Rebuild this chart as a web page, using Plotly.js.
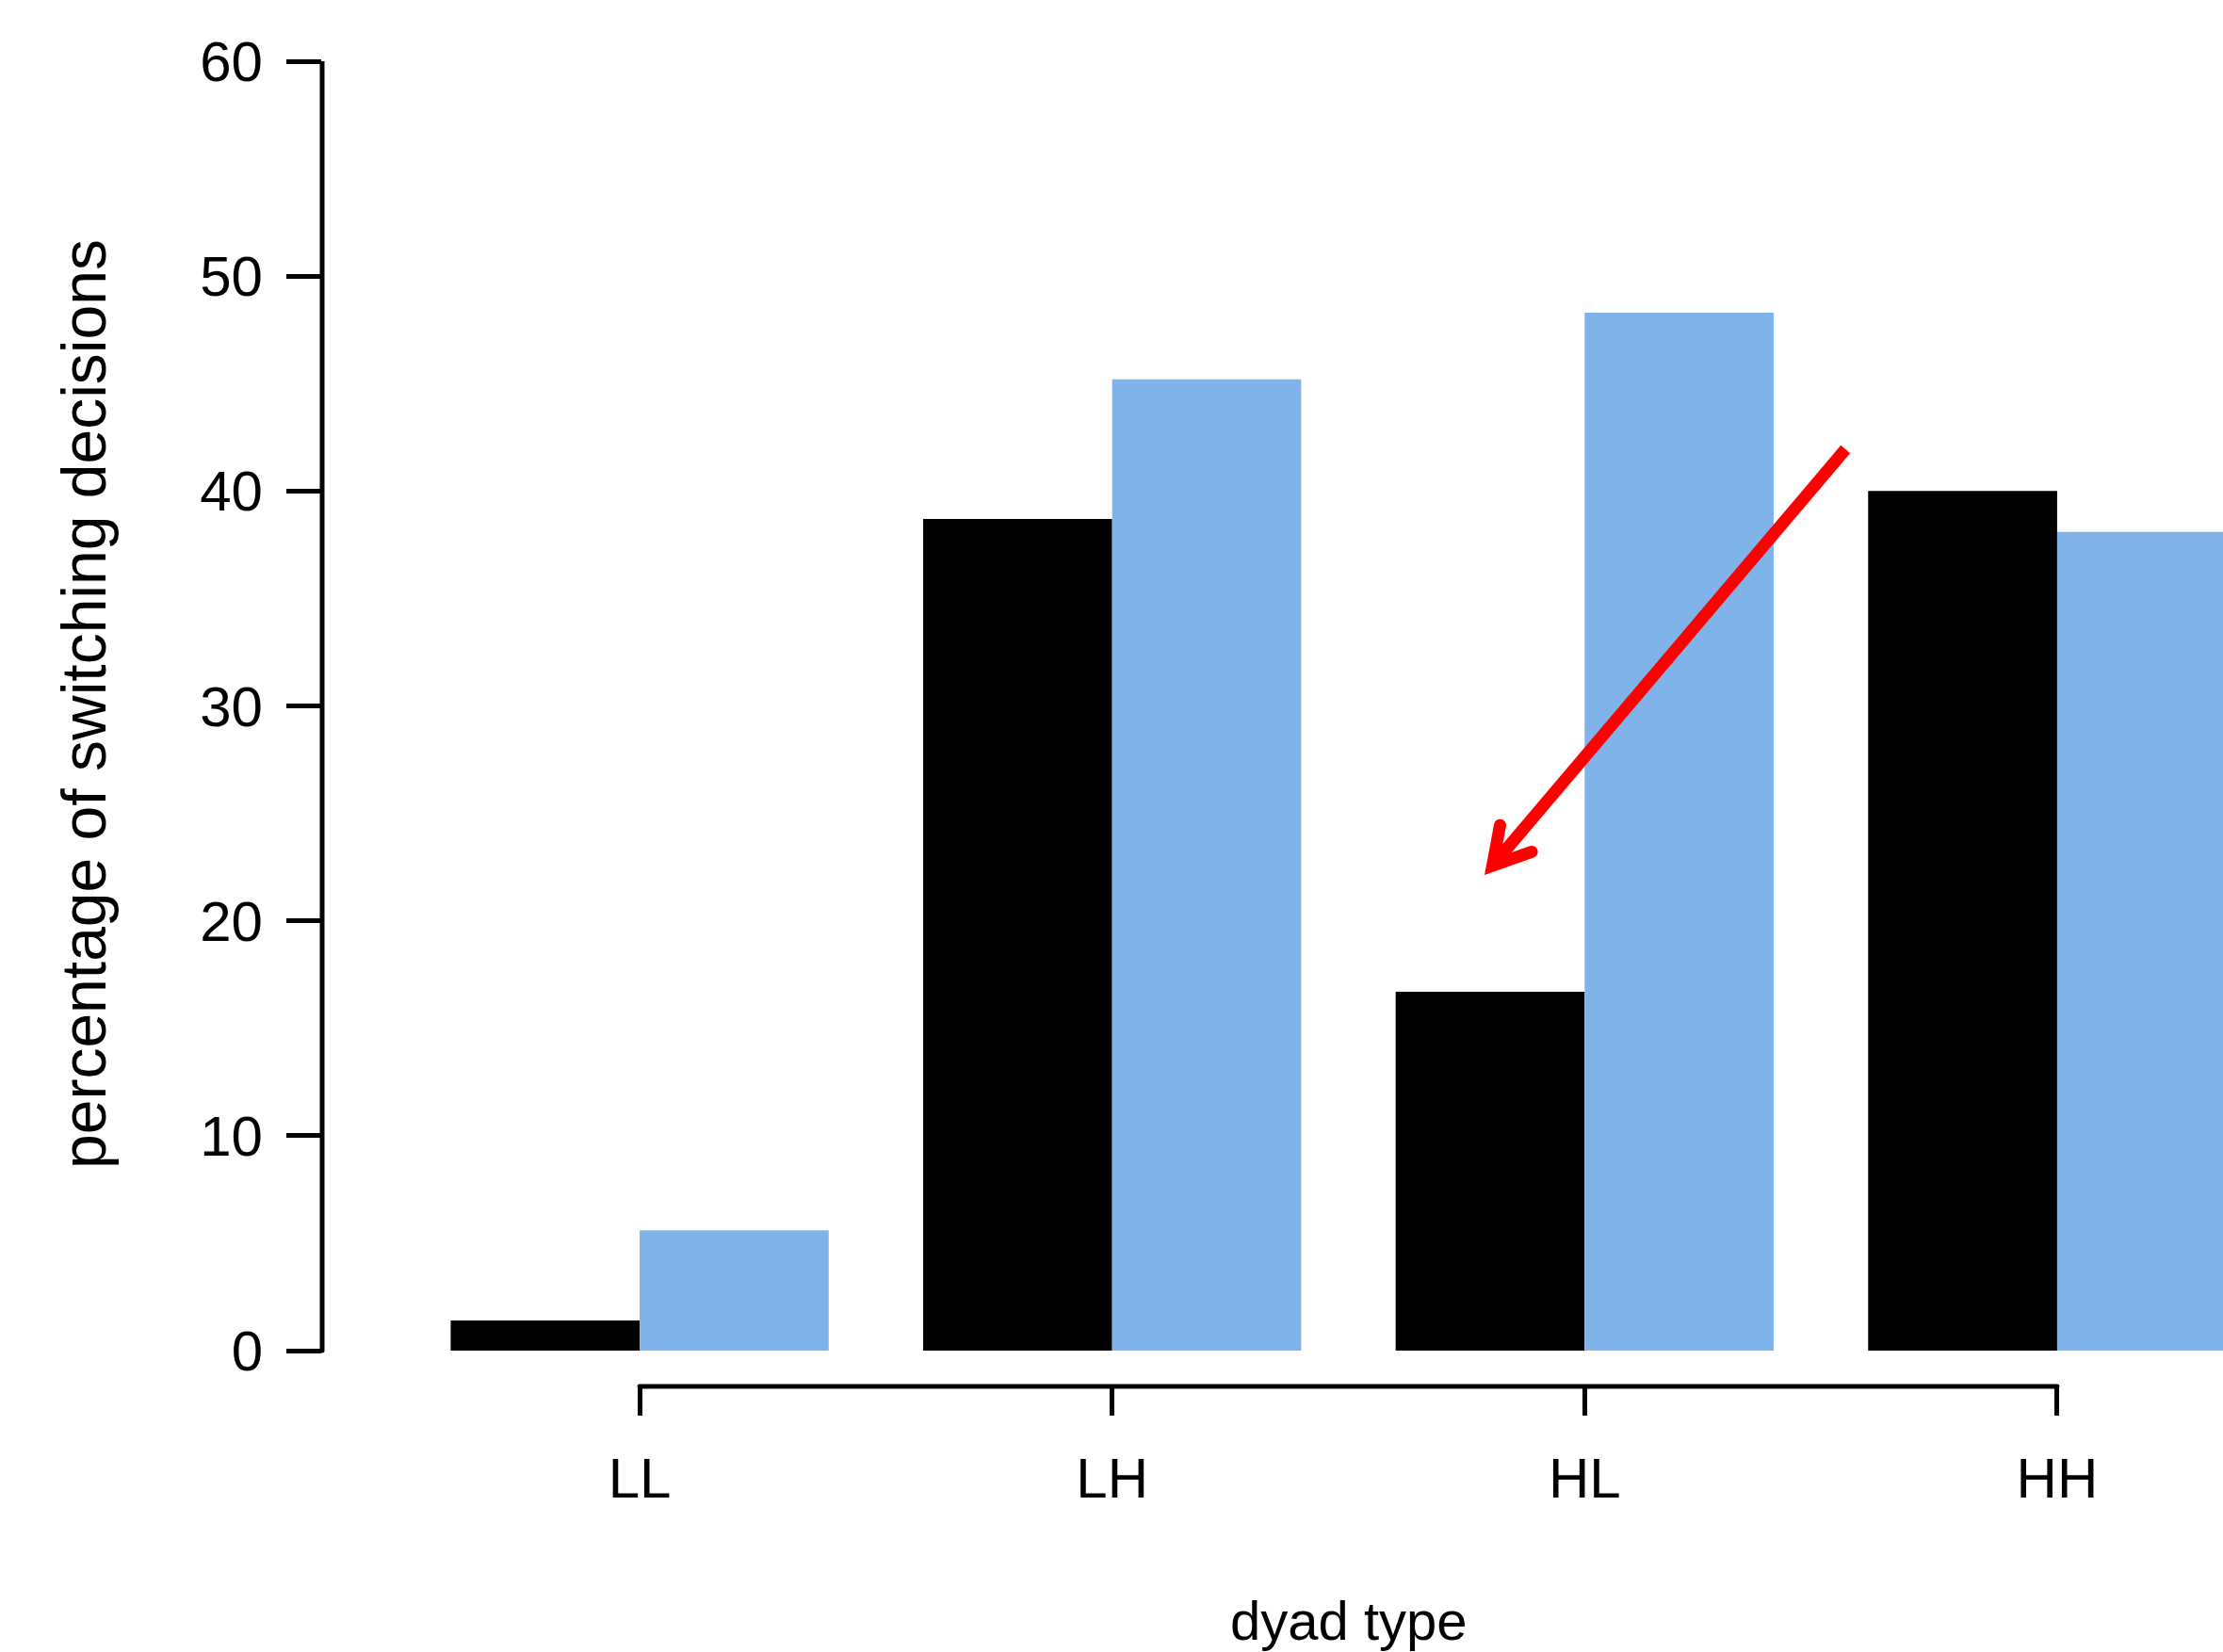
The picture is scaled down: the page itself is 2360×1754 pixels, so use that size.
<!DOCTYPE html>
<html>
<head>
<meta charset="utf-8">
<script src="https://cdn.plot.ly/plotly-3.0.1.min.js"></script>
<style>
html, body { margin: 0; padding: 0; overflow: hidden; background: #fff; }
#chart { width: 2521px; height: 1754px; }
</style>
</head>
<body>
<div id="chart"></div>
<script>
// Data
const categories = ["LL", "LH", "HL", "HH"];
const positions = [0, 1, 2, 3];
const seriesBlack = [1.4, 38.7, 16.7, 40.0];
const seriesBlue = [5.6, 45.2, 48.3, 38.1];
const yTicks = [0, 10, 20, 30, 40, 50, 60];

// Annotation arrow (data coordinates)
const arrowTail = [2.552, 41.94];
const arrowTip = [1.805, 22.57];
const arrowBarbA = [1.821, 24.45];
const arrowBarbB = [1.888, 23.21];

const FONT = "Liberation Sans, Arial, Helvetica, sans-serif";

const traces = [
  {
    type: "bar", x: positions, y: seriesBlack, name: "black",
    marker: { color: "#000000", line: { width: 0 } },
    hoverinfo: "x+y"
  },
  {
    type: "bar", x: positions, y: seriesBlue, name: "blue",
    marker: { color: "rgb(127,179,233)", line: { width: 0 } },
    hoverinfo: "x+y"
  }
];

const layout = {
  width: 2521, height: 1754,
  margin: { l: 342, r: 0, t: 65, b: 282, pad: 0 },
  paper_bgcolor: "#ffffff", plot_bgcolor: "#ffffff",
  showlegend: false,
  barmode: "group", bargap: 0.2, bargroupgap: 0,
  font: { family: FONT, color: "#000", size: 60 },
  xaxis: {
    range: [-0.672, 3.672], tickvals: positions, ticktext: categories,
    ticks: "outside", ticklen: 30, tickwidth: 5, tickcolor: "#000",
    showline: false, showgrid: false, zeroline: false,
    tickfont: { family: FONT, size: 60, color: "#000" },
    ticklabelstandoff: 15, fixedrange: true
  },
  yaxis: {
    range: [-1.665, 60], tickvals: yTicks,
    ticks: "outside", ticklen: 37, tickwidth: 5, tickcolor: "#000",
    showline: false, showgrid: false, zeroline: false,
    tickfont: { family: FONT, size: 60, color: "#000" },
    ticklabelstandoff: 13, fixedrange: true
  },
  shapes: [
    { type: "line", xref: "paper", yref: "y", x0: 0, x1: 0, y0: yTicks[0], y1: yTicks[yTicks.length - 1],
      line: { color: "#000", width: 5 } },
    { type: "line", xref: "x", yref: "paper", x0: positions[0], x1: positions[positions.length - 1], y0: 0, y1: 0,
      line: { color: "#000", width: 5 } },
    { type: "line", xref: "x", yref: "y", x0: arrowTail[0], y0: arrowTail[1], x1: arrowTip[0], y1: arrowTip[1],
      line: { color: "#ff0000", width: 13 } },
    { type: "path", xref: "x", yref: "y",
      path: "M " + arrowBarbA[0] + "," + arrowBarbA[1] + " L " + arrowTip[0] + "," + arrowTip[1] + " L " + arrowBarbB[0] + "," + arrowBarbB[1],
      line: { color: "#ff0000", width: 13 } }
  ],
  annotations: [
    { text: "dyad type", xref: "paper", yref: "paper", x: 0.5, y: -0.1763,
      xanchor: "center", yanchor: "middle", showarrow: false,
      font: { family: FONT, size: 58, color: "#000" } },
    { text: "percentage of switching decisions", xref: "paper", yref: "paper", x: -0.1161, y: 0.5146,
      xanchor: "center", yanchor: "middle", textangle: -90, showarrow: false,
      font: { family: FONT, size: 66, color: "#000" } }
  ]
};

Plotly.newPlot("chart", traces, layout, { displayModeBar: false, staticPlot: true }).then(function (gd) {
  const paths = gd.querySelectorAll(".shapelayer path");
  paths.forEach(function (p, i) {
    p.style.strokeLinecap = (i === 0 || i === 1 || i === 3) ? "round" : "butt";
    p.style.strokeLinejoin = "miter";
  });
});
</script>
</body>
</html>
